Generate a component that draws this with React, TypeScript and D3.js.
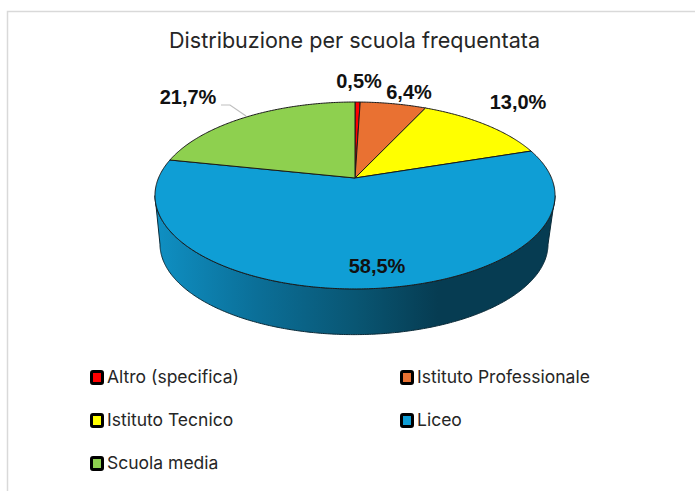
import React from "react";
import * as d3 from "d3";

const categories = ["Altro (specifica)", "Istituto Professionale", "Istituto Tecnico", "Liceo", "Scuola media"];
const values = [0.5, 6.4, 13.0, 58.5, 21.7];
const labels = ["0,5%", "6,4%", "13,0%", "58,5%", "21,7%"];
const colors = ["#ff0000", "#e97132", "#ffff00", "#0f9ed5", "#8ed04f"];
const title = "Distribuzione per scuola frequentata";

const labelPos: [number, number][] = [[359, 88], [409, 99], [518, 109], [377, 273], [188, 104]];
const legendPos: [number, number][] = [[90, 377], [400, 377], [90, 420], [400, 420], [90, 463]];

const cx = 355, cy = 178, a = 90.2, b = 196.5, p = 0.187;
const proj = (t: number): [number, number] => {
  const u = Math.sin(t), v = -Math.cos(t), d = 1 - p * v;
  return [cx + (b * u) / d, cy + (a * v) / d];
};
const lower = (t: number): [number, number] => {
  const [x, y] = proj(t);
  return [cx + (x - cx) * 0.97 - 1, cy + (y - cy) * 0.97 + 49];
};
const line = d3.line();
const samples = (s: number, e: number) => {
  const n = Math.max(2, Math.ceil((e - s) / 0.01));
  return d3.range(n + 1).map((i) => s + ((e - s) * i) / n);
};

export default function App() {
  const arcs = d3.pie<number>().sort(null)(values);
  const tr = Math.PI / 2 + 0.19, tl = (3 * Math.PI) / 2 - 0.19;
  const wall = line([...samples(tr, tl).map(proj), ...samples(tr, tl).reverse().map(lower)]) + "Z";
  return (
    <svg width={695} height={491} style={{ position: "absolute", left: 0, top: 0 }} fontFamily="Liberation Sans">
      <defs>
        <linearGradient id="wall" gradientUnits="userSpaceOnUse" x1={158} x2={552} y1={0} y2={0}>
          <stop offset="0" stopColor="#0f8fc2" />
          <stop offset="0.25" stopColor="#0b6f98" />
          <stop offset="0.5" stopColor="#095673" />
          <stop offset="0.71" stopColor="#063c52" />
          <stop offset="1" stopColor="#063c52" />
        </linearGradient>
      </defs>
      <rect x={0} y={0} width={695} height={491} fill="#fff" />
      <path d="M7.5,491V11.5H695" fill="none" stroke="#d9d9d9" strokeWidth={1.5} />
      <text x={354.5} y={48} textAnchor="middle" fontFamily="Inter" fontSize={22} fill="#262626" textLength={371} lengthAdjust="spacingAndGlyphs">{title}</text>
      <path d={wall} fill="url(#wall)" stroke="#0a2a38" strokeWidth={1} />
      {arcs.map((d, i) => (
        <path
          key={i}
          d={line([[cx, cy], ...samples(d.startAngle, d.endAngle).map(proj)]) + "Z"}
          fill={colors[i]}
          stroke="#1a1a1a"
          strokeWidth={1}
          strokeLinejoin="round"
        />
      ))}
      <polyline points="221,105 230,105 246,116" fill="none" stroke="#bfbfbf" strokeWidth={1.2} />
      {labels.map((t, i) => (
        <text key={i} x={labelPos[i][0]} y={labelPos[i][1]} textAnchor="middle" fontWeight={700} fontSize={20} fill="#111">{t}</text>
      ))}
      {categories.map((c, i) => (
        <g key={c}>
          <rect x={legendPos[i][0] + 1.5} y={legendPos[i][1] - 5.5} width={11} height={12} rx={1.5} fill={colors[i]} stroke="#000" strokeWidth={3} />
          <text x={legendPos[i][0] + 17} y={legendPos[i][1] + 6} fontFamily="Inter" fontSize={17.5} fill="#262626">{c}</text>
        </g>
      ))}
    </svg>
  );
}
